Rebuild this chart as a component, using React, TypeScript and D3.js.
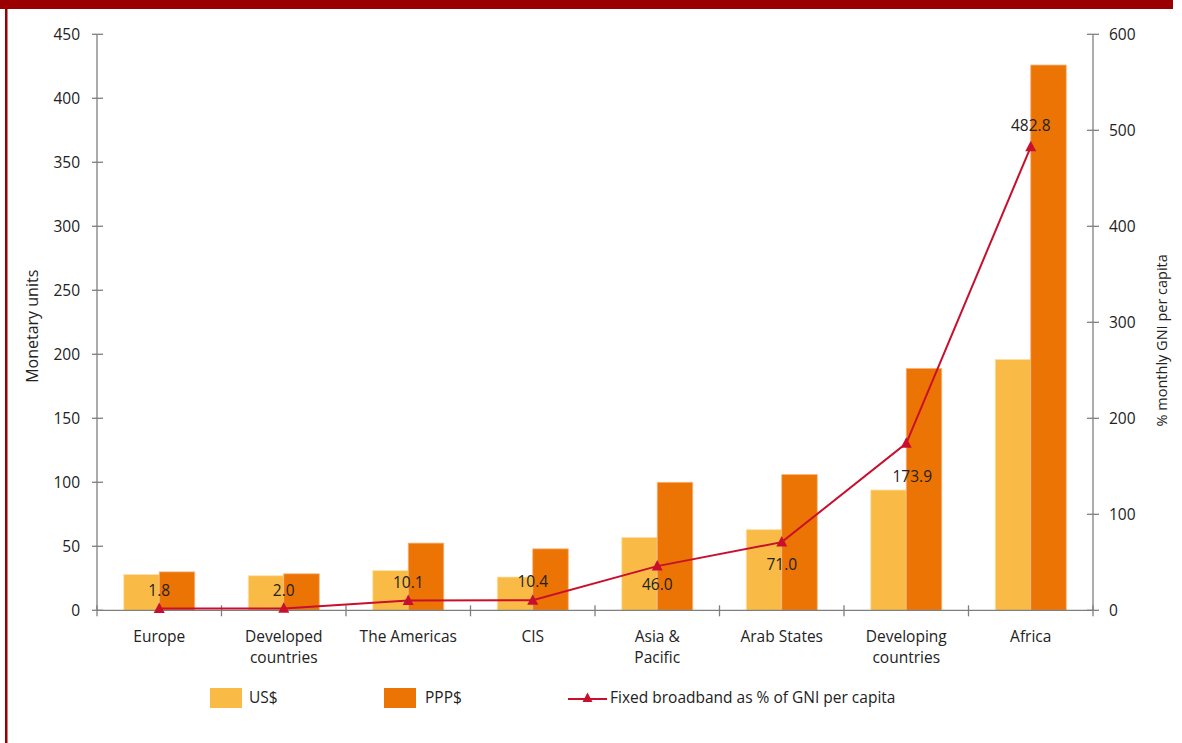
import React from "react";
import * as d3 from "d3";

const categories = ["Europe", "Developed\ncountries", "The Americas", "CIS", "Asia &\nPacific", "Arab States", "Developing\ncountries", "Africa"];
const usd = [28, 27, 31, 26, 57, 63, 94, 196];
const ppp = [30, 28.5, 52.5, 48, 100, 106, 189, 426];
const gniPct = [1.8, 2.0, 10.1, 10.4, 46.0, 71.0, 173.9, 482.8];
const leftTicks = [0, 50, 100, 150, 200, 250, 300, 350, 400, 450];
const rightTicks = [0, 100, 200, 300, 400, 500, 600];
// data-label vertical offsets from the point (style)
const labelOffset = [-18, -18, -18, -19, 18, 22, 33, -21];
const labelDx = [0, 0, 0, 0, 0, 0, 6, 0];

const W = 1182, H = 743;
const FONT = "'Open Sans', sans-serif";
const FS = 15.5;
const C_USD = "#f9bb45";
const C_PPP = "#ec7405";
const C_LINE = "#c8102e";
const C_AXIS = "#7f7f7f";

export default function App() {
  const x0 = 97, x1 = 1093, yTop = 34.3, yBot = 610.3;
  const xScale = d3.scaleBand<number>().domain(d3.range(categories.length)).range([x0, x1]).paddingInner(0).paddingOuter(0);
  const band = xScale.bandwidth();
  const groupW = 71;
  const yL = d3.scaleLinear().domain([0, 450]).range([yBot, yTop]);
  const yR = d3.scaleLinear().domain([0, 600]).range([yBot, yTop]);
  const cx = (i: number) => (xScale(i) as number) + band / 2;
  const line = d3.line<number>().x((_, i) => cx(i)).y((d) => yR(d));
  const tri = (x: number, y: number, s = 11) => `M${x},${y - s * 0.55} L${x + s / 2},${y + s * 0.4} L${x - s / 2},${y + s * 0.4} Z`;

  return (
    <svg width={W} height={H} style={{ position: "absolute", left: 0, top: 0, background: "#fff" }}>
      <rect x={0} y={0} width={1173} height={9} fill="#9b0000" />
      <rect x={5} y={0} width={2.5} height={H} fill="#9b0000" />

      {/* bars */}
      {categories.map((_, i) => {
        const gx = cx(i) - groupW / 2;
        return (
          <g key={i}>
            <rect x={gx} y={yL(usd[i])} width={groupW / 2} height={yBot - yL(usd[i])} fill={C_USD} stroke="#fde2ad" strokeWidth={0.8} />
            <rect x={gx + groupW / 2} y={yL(ppp[i])} width={groupW / 2} height={yBot - yL(ppp[i])} fill={C_PPP} stroke="#f6b37a" strokeWidth={0.8} />
          </g>
        );
      })}

      {/* axes */}
      <line x1={x0} x2={x0} y1={yTop} y2={yBot} stroke={C_AXIS} strokeWidth={1.3} />
      <line x1={x1} x2={x1} y1={yTop} y2={yBot} stroke={C_AXIS} strokeWidth={1.3} />
      <line x1={x0} x2={x1} y1={yBot} y2={yBot} stroke={C_AXIS} strokeWidth={1.3} />
      {leftTicks.map((t) => (
        <g key={"l" + t}>
          <line x1={x0 - 5} x2={x0 + 6} y1={yL(t)} y2={yL(t)} stroke={C_AXIS} strokeWidth={1.3} />
          <text x={x0 - 17} y={yL(t)} dy="0.35em" textAnchor="end" fontFamily={FONT} fontSize={FS} fill="#222">{t}</text>
        </g>
      ))}
      {rightTicks.map((t) => (
        <g key={"r" + t}>
          <line x1={x1 - 6} x2={x1 + 6} y1={yR(t)} y2={yR(t)} stroke={C_AXIS} strokeWidth={1.3} />
          <text x={x1 + 16} y={yR(t)} dy="0.35em" textAnchor="start" fontFamily={FONT} fontSize={FS} fill="#222">{t}</text>
        </g>
      ))}
      {d3.range(categories.length + 1).map((i) => {
        const xx = x0 + i * band;
        return <line key={"x" + i} x1={xx} x2={xx} y1={yBot - 5} y2={yBot + 6} stroke={C_AXIS} strokeWidth={1.3} />;
      })}
      {categories.map((c, i) => (
        <text key={"c" + i} x={cx(i)} y={642} textAnchor="middle" fontFamily={FONT} fontSize={FS} fill="#222">
          {c.split("\n").map((ln, k) => (
            <tspan key={k} x={cx(i)} dy={k === 0 ? 0 : 21}>{ln}</tspan>
          ))}
        </text>
      ))}

      <text transform={`translate(38,${(yTop + yBot) / 2 + 4}) rotate(-90)`} textAnchor="middle" fontFamily={FONT} fontSize={16} fill="#222">Monetary units</text>
      <text transform={`translate(1167,${(yTop + yBot) / 2 + 18}) rotate(-90)`} textAnchor="middle" fontFamily={FONT} fontSize={14.5} fill="#222">% monthly GNI per capita</text>

      {/* line */}
      <path d={line(gniPct) as string} fill="none" stroke={C_LINE} strokeWidth={2} />
      {gniPct.map((v, i) => (
        <path key={"m" + i} d={tri(cx(i), yR(v))} fill={C_LINE} />
      ))}
      {gniPct.map((v, i) => (
        <text key={"v" + i} x={cx(i) + labelDx[i]} y={yR(v) + labelOffset[i]} dy="0.35em" textAnchor="middle" fontFamily={FONT} fontSize={FS} fill="#222">
          {v.toFixed(1)}
        </text>
      ))}

      {/* legend */}
      <rect x={210} y={688} width={32} height={20} fill={C_USD} />
      <text x={249} y={698} dy="0.35em" fontFamily={FONT} fontSize={FS} fill="#222">US$</text>
      <rect x={384} y={688} width={32} height={20} fill={C_PPP} />
      <text x={425} y={698} dy="0.35em" fontFamily={FONT} fontSize={FS} fill="#222">PPP$</text>
      <line x1={568} x2={607} y1={699} y2={699} stroke={C_LINE} strokeWidth={2} />
      <path d={tri(587.5, 698, 10)} fill={C_LINE} />
      <text x={610} y={698} dy="0.35em" fontFamily={FONT} fontSize={FS} fill="#222">Fixed broadband as % of GNI per capita</text>
    </svg>
  );
}
